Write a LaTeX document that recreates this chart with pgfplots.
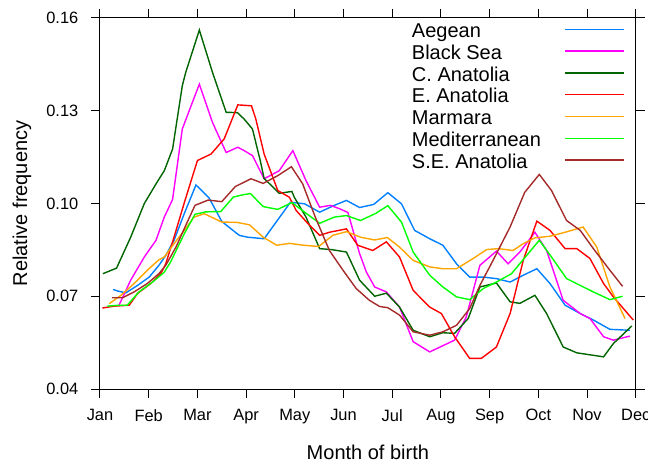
\documentclass[border=0pt]{standalone}
\usepackage{pgfplots}
\pgfplotsset{compat=1.18}
\usepackage{fontspec}
\setmainfont{Liberation Sans}
\definecolor{cAeg}{HTML}{0080FF}
\definecolor{cBla}{HTML}{FF00FF}
\definecolor{cCAn}{HTML}{006400}
\definecolor{cEAn}{HTML}{FF0000}
\definecolor{cMar}{HTML}{FFA500}
\definecolor{cMed}{HTML}{00FF00}
\definecolor{cSEA}{HTML}{A52A2A}
\tikzset{legnode/.style={anchor=base west, inner sep=0pt, font=\fontsize{15}{18}\selectfont}}
\begin{document}
\begin{tikzpicture}
\useasboundingbox (-75pt,-56.25pt) rectangle (411pt,291.75pt);
\begin{axis}[
  scale only axis, width=401.8pt, height=278.25pt,
  xmin=0, xmax=11, ymin=0.04, ymax=0.16,
  xtick={0,...,11},
  xticklabels={Jan,Feb,Mar,Apr,May,Jun,Jul,Aug,Sep,Oct,Nov,Dec},
  ytick={0.04,0.07,0.10,0.13,0.16},
  yticklabels={0.04,0.07,0.10,0.13,0.16},
  tick align=outside, tick pos=both, major tick length=6.75pt,
  tick style={black, line width=0.75pt},
  axis line style={line width=0.75pt},
  ticklabel style={font=\fontsize{12.3}{14}\selectfont},
  xticklabel style={yshift=-5pt},
  yticklabel style={xshift=-6pt},
  xlabel={Month of birth}, ylabel={Relative frequency},
  label style={font=\fontsize{15}{18}\selectfont},
  xlabel style={at={(axis description cs:0.5,-0.17)}, anchor=center},
  ylabel style={at={(axis description cs:-0.1456,0.5)}, anchor=center},
  every axis plot/.append style={line width=1.05pt},
]
\addplot[cAeg] coordinates {(0.27,0.0722)(0.36,0.0717)(0.53,0.0711)(0.77,0.0735)(1.01,0.0762)(1.21,0.0800)(1.35,0.0832)(1.52,0.0881)(1.73,0.0967)(1.97,0.1060)(2.24,0.1018)(2.50,0.0942)(2.69,0.0918)(2.86,0.0897)(3.03,0.0891)(3.37,0.0886)(3.91,0.1004)(4.20,0.0999)(4.51,0.0972)(4.81,0.0994)(5.06,0.1010)(5.33,0.0987)(5.62,0.0997)(5.91,0.1035)(6.19,0.0999)(6.46,0.0913)(6.77,0.0886)(7.04,0.0865)(7.32,0.0805)(7.59,0.0762)(7.87,0.0762)(8.14,0.0757)(8.42,0.0746)(8.69,0.0768)(8.97,0.0789)(9.24,0.0741)(9.55,0.0671)(9.86,0.0644)(10.13,0.0623)(10.47,0.0593)(10.88,0.0590)};
\addplot[cBla] coordinates {(0.39,0.0671)(0.63,0.0752)(0.91,0.0827)(1.15,0.0881)(1.32,0.0956)(1.49,0.1013)(1.69,0.1241)(1.87,0.1316)(2.04,0.1386)(2.31,0.1262)(2.59,0.1165)(2.83,0.1182)(2.96,0.1171)(3.13,0.1155)(3.37,0.1080)(3.68,0.1106)(3.96,0.1171)(4.23,0.1074)(4.51,0.0988)(4.73,0.0994)(4.92,0.0983)(5.09,0.0971)(5.33,0.0838)(5.47,0.0778)(5.64,0.0730)(5.88,0.0714)(6.15,0.0665)(6.43,0.0553)(6.77,0.0520)(7.28,0.0558)(7.52,0.0633)(7.80,0.0800)(8.14,0.0846)(8.38,0.0805)(8.62,0.0843)(8.93,0.0907)(9.17,0.0848)(9.51,0.0687)(9.86,0.0644)(10.06,0.0628)(10.34,0.0569)(10.54,0.0558)(10.88,0.0571)};
\addplot[cCAn] coordinates {(0.06,0.0773)(0.34,0.0791)(0.63,0.0891)(0.91,0.1000)(1.16,0.1066)(1.32,0.1106)(1.49,0.1176)(1.69,0.1381)(1.76,0.1424)(2.04,0.1561)(2.31,0.1424)(2.59,0.1295)(2.82,0.1294)(2.96,0.1273)(3.13,0.1241)(3.29,0.1139)(3.37,0.1081)(3.68,0.1033)(3.94,0.1039)(3.99,0.1020)(4.23,0.0956)(4.51,0.0854)(4.75,0.0851)(5.06,0.0843)(5.33,0.0752)(5.64,0.0700)(5.88,0.0710)(6.15,0.0665)(6.43,0.0590)(6.77,0.0569)(7.04,0.0582)(7.28,0.0580)(7.56,0.0628)(7.80,0.0730)(8.14,0.0743)(8.42,0.0682)(8.62,0.0677)(8.93,0.0703)(9.17,0.0644)(9.51,0.0536)(9.79,0.0517)(10.34,0.0504)(10.54,0.0547)(10.92,0.0604)};
\addplot[cEAn] coordinates {(0.05,0.0662)(0.29,0.0668)(0.60,0.0671)(0.77,0.0709)(1.04,0.0741)(1.25,0.0773)(1.35,0.0805)(1.52,0.0891)(1.73,0.1002)(2.00,0.1139)(2.28,0.1160)(2.55,0.1209)(2.83,0.1319)(3.11,0.1316)(3.20,0.1273)(3.37,0.1160)(3.65,0.1042)(3.89,0.1020)(4.03,0.0977)(4.27,0.0935)(4.51,0.0897)(4.71,0.0907)(5.06,0.0918)(5.29,0.0865)(5.60,0.0848)(5.88,0.0876)(6.15,0.0827)(6.43,0.0719)(6.77,0.0665)(7.01,0.0644)(7.28,0.0569)(7.59,0.0499)(7.83,0.0499)(8.14,0.0536)(8.42,0.0644)(8.69,0.0816)(8.97,0.0943)(9.24,0.0913)(9.55,0.0854)(9.79,0.0854)(10.06,0.0822)(10.34,0.0741)(10.54,0.0698)(10.95,0.0623)};
\addplot[cMar] coordinates {(0.19,0.0676)(0.43,0.0703)(0.70,0.0741)(0.97,0.0784)(1.21,0.0818)(1.32,0.0827)(1.52,0.0870)(1.73,0.0913)(1.93,0.0956)(2.14,0.0967)(2.50,0.0940)(2.81,0.0939)(3.07,0.0931)(3.35,0.0891)(3.63,0.0865)(3.89,0.0871)(4.18,0.0865)(4.49,0.0861)(4.78,0.0897)(5.06,0.0909)(5.35,0.0891)(5.64,0.0882)(5.90,0.0890)(6.15,0.0859)(6.43,0.0816)(6.77,0.0795)(7.04,0.0789)(7.32,0.0789)(7.66,0.0822)(7.94,0.0851)(8.18,0.0854)(8.48,0.0848)(8.69,0.0870)(8.93,0.0889)(9.24,0.0894)(9.55,0.0907)(9.92,0.0924)(10.20,0.0859)(10.47,0.0730)(10.78,0.0628)};
\addplot[cMed] coordinates {(0.15,0.0668)(0.39,0.0671)(0.56,0.0671)(0.80,0.0714)(1.08,0.0746)(1.32,0.0778)(1.45,0.0811)(1.73,0.0902)(1.95,0.0965)(2.17,0.0973)(2.48,0.0974)(2.74,0.1021)(2.96,0.1029)(3.09,0.1032)(3.35,0.0990)(3.65,0.0981)(3.94,0.1003)(4.20,0.0972)(4.51,0.0936)(4.81,0.0956)(5.06,0.0961)(5.35,0.0945)(5.66,0.0968)(5.91,0.0993)(6.19,0.0940)(6.43,0.0843)(6.77,0.0768)(7.04,0.0730)(7.32,0.0698)(7.59,0.0689)(7.87,0.0725)(8.14,0.0746)(8.45,0.0773)(8.76,0.0832)(9.02,0.0881)(9.27,0.0827)(9.58,0.0757)(9.86,0.0735)(10.13,0.0714)(10.47,0.0689)(10.73,0.0700)};
\addplot[cSEA] coordinates {(0.25,0.0695)(0.46,0.0695)(0.70,0.0714)(0.97,0.0741)(1.21,0.0773)(1.35,0.0800)(1.56,0.0859)(1.76,0.0929)(1.95,0.0994)(2.22,0.1011)(2.50,0.1006)(2.78,0.1055)(3.10,0.1080)(3.35,0.1065)(3.65,0.1090)(3.93,0.1119)(4.16,0.1064)(4.42,0.0956)(4.71,0.0848)(4.99,0.0784)(5.26,0.0725)(5.53,0.0687)(5.74,0.0667)(5.91,0.0663)(6.15,0.0639)(6.43,0.0585)(6.77,0.0574)(7.04,0.0585)(7.32,0.0606)(7.59,0.0660)(7.80,0.0735)(8.07,0.0816)(8.42,0.0924)(8.72,0.1036)(9.02,0.1094)(9.27,0.1042)(9.58,0.0945)(9.86,0.0913)(10.13,0.0854)(10.47,0.0784)(10.73,0.0732)};
% legend (text left, line right, as in the lattice key)
\node[legnode] at (axis description cs:0.5818,0.9471) {Aegean};
\node[legnode] at (axis description cs:0.5818,0.8884) {Black Sea};
\node[legnode] at (axis description cs:0.5818,0.8296) {C. Anatolia};
\node[legnode] at (axis description cs:0.5818,0.7711) {E. Anatolia};
\node[legnode] at (axis description cs:0.5818,0.7124) {Marmara};
\node[legnode] at (axis description cs:0.5818,0.6536) {Mediterranean};
\node[legnode] at (axis description cs:0.5818,0.5949) {S.E. Anatolia};
\draw[cAeg, line width=1.05pt] (axis description cs:0.868,0.9695) -- (axis description cs:0.9787,0.9695);
\draw[cBla, line width=1.05pt] (axis description cs:0.868,0.9108) -- (axis description cs:0.9787,0.9108);
\draw[cCAn, line width=1.05pt] (axis description cs:0.868,0.8520) -- (axis description cs:0.9787,0.8520);
\draw[cEAn, line width=1.05pt] (axis description cs:0.868,0.7935) -- (axis description cs:0.9787,0.7935);
\draw[cMar, line width=1.05pt] (axis description cs:0.868,0.7348) -- (axis description cs:0.9787,0.7348);
\draw[cMed, line width=1.05pt] (axis description cs:0.868,0.6760) -- (axis description cs:0.9787,0.6760);
\draw[cSEA, line width=1.05pt] (axis description cs:0.868,0.6173) -- (axis description cs:0.9787,0.6173);
\end{axis}
\end{tikzpicture}
\end{document}
